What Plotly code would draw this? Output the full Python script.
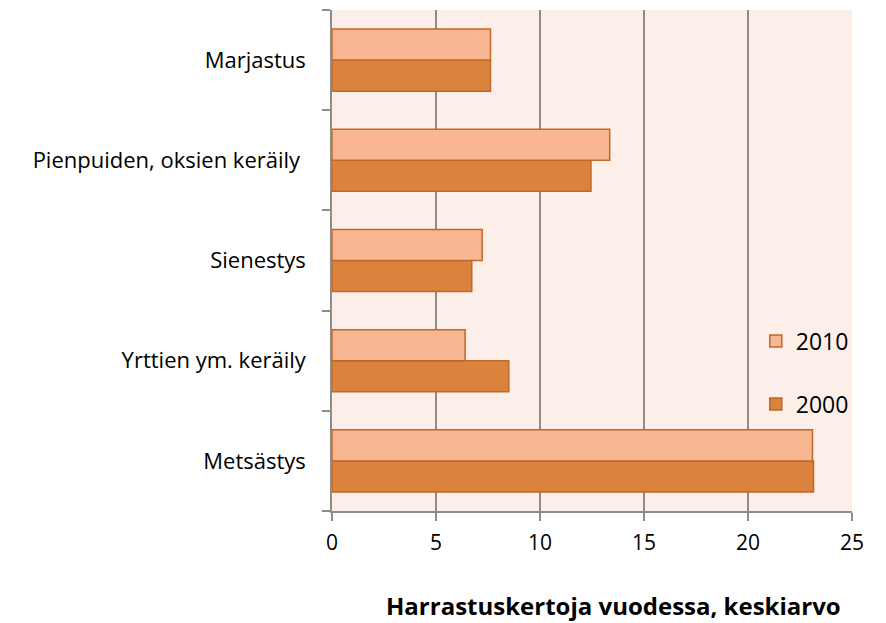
import plotly.graph_objects as go

categories = ["Metsästys", "Yrttien ym. keräily", "Sienestys",
              "Pienpuiden, oksien keräily\u00a0", "Marjastus"]
values_2000 = [23.15, 8.5, 6.72, 12.45, 7.62]
values_2010 = [23.1, 6.4, 7.22, 13.35, 7.62]
x_ticks = [0, 5, 10, 15, 20, 25]
x_title = "<b>Harrastuskertoja vuodessa, keskiarvo</b>"

color_2010 = "#F9B692"
color_2000 = "#DB823C"
edge = "#C0682A"
grid = "#8C8C8C"

fig = go.Figure()
fig.add_trace(go.Bar(y=categories, x=values_2000, orientation="h", name="2000",
                     legendgroup="a", legendrank=2,
                     marker=dict(color=color_2000, line=dict(color=edge, width=1.5))))
fig.add_trace(go.Bar(y=categories, x=values_2010, orientation="h", name="2010",
                     legendgroup="b", legendrank=1,
                     marker=dict(color=color_2010, line=dict(color=edge, width=1.5))))

font_family = "'Open Sans', Lato, sans-serif"
fig.update_layout(
    width=886, height=623,
    margin=dict(l=324, r=42, t=2, b=120),
    paper_bgcolor="white",
    plot_bgcolor="#FCEEE9",
    barmode="group",
    bargap=0.38,
    bargroupgap=0,
    font=dict(family=font_family, size=22, color="black"),
    legend=dict(x=0.815, y=0.382, xanchor="left", yanchor="top",
                traceorder="grouped", tracegroupgap=30,
                bgcolor="rgba(0,0,0,0)", font=dict(size=23),
                itemwidth=30),
    xaxis=dict(range=[0, 25], tickvals=x_ticks, showgrid=True, gridcolor=grid,
               gridwidth=1.5, showline=True, linecolor=grid, linewidth=1.5,
               ticks="outside", ticklen=8, tickcolor=grid, tickwidth=1.5,
               zeroline=False, tickfont=dict(size=21), ticklabelstandoff=4),
    yaxis=dict(showgrid=False, showline=True, linecolor=grid, linewidth=1.5,
               ticks="outside", ticklen=8, tickcolor=grid, tickwidth=1.5,
               tickson="boundaries", ticklabelstandoff=20),
)
fig.add_annotation(text=x_title, xref="paper", yref="paper",
                   x=0.542, y=-0.188, xanchor="center", yanchor="middle",
                   showarrow=False, font=dict(size=24, color="black"))

fig.write_html("out.html")
